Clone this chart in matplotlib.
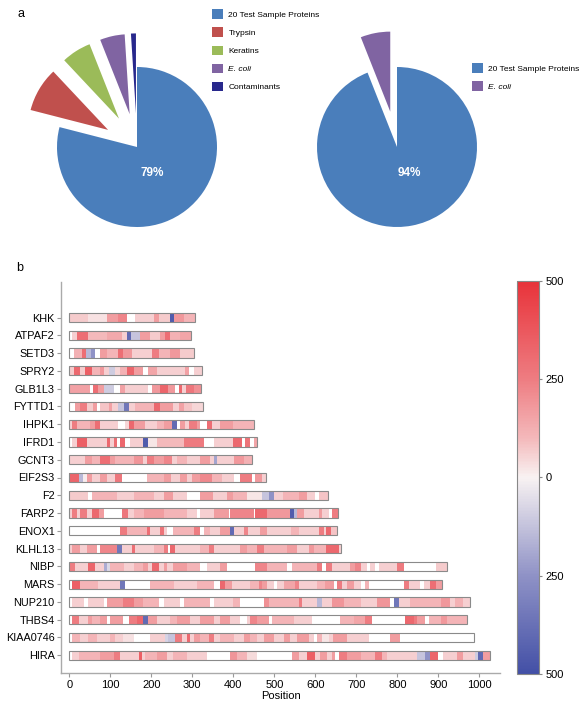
import matplotlib
matplotlib.use("Agg")
import matplotlib.pyplot as plt
import numpy as np
from matplotlib.colors import LinearSegmentedColormap, Normalize
from matplotlib.cm import ScalarMappable

plt.rcParams['font.family'] = ['Liberation Sans', 'DejaVu Sans']

# ---- panel a: pie data ----
pie1_labels = ['20 Test Sample Proteins', 'Trypsin', 'Keratins', 'E. coli', 'Contaminants']
pie1_values = [79, 9, 6, 5, 1]
pie1_colors = ['#4a7ebb', '#c0504d', '#9bbb59', '#8064a2', '#28288c']

pie2_labels = ['20 Test Sample Proteins', 'E. coli']
pie2_values = [94, 6]
pie2_colors = ['#4a7ebb', '#8064a2']

# ---- panel b: coverage bars, (start residue, value) segments ----
proteins = ['KHK', 'ATPAF2', 'SETD3', 'SPRY2', 'GLB1L3', 'FYTTD1', 'IHPK1', 'IFRD1', 'GCNT3', 'EIF2S3',
            'F2', 'FARP2', 'ENOX1', 'KLHL13', 'NIBP', 'MARS', 'NUP210', 'THBS4', 'KIAA0746', 'HIRA']
lengths = [306, 297, 303, 324, 322, 326, 450, 458, 445, 480,
           630, 655, 652, 663, 922, 909, 978, 969, 986, 1026]

KHK = [(0, 70), (47, 30), (92, 170), (120, 230), (141, 0), (161, 60), (206, 170), (218, 70), (246, -450),
       (256, 180), (279, 110)]
ATPAF2 = [(0, 0), (6, 60), (20, 300), (47, 100), (92, 140), (129, 60), (141, -400), (150, -120), (173, 170),
          (196, 70), (222, 170), (234, 300), (246, 120), (271, 150)]
SETD3 = [(0, 0), (12, 120), (31, 300), (41, -150), (53, -250), (63, 0), (76, 170), (92, 110), (120, 300),
         (132, 180), (153, 60), (202, 250), (219, 110), (246, 180), (271, 70)]
SPRY2 = [(0, 70), (11, 320), (27, 70), (39, 350), (55, 110), (74, 180), (84, 60), (96, -100), (112, 50),
         (124, 120), (141, 330), (158, 170), (181, 0), (191, 150), (214, 60), (283, 160), (291, 0), (304, 60)]
GLB1L3 = [(0, 160), (51, 0), (59, 300), (71, 170), (84, -100), (108, 0), (124, 160), (137, 60), (193, 0),
          (202, 180), (222, 330), (242, 180), (258, 0), (267, 320), (275, 60), (285, 270), (303, 200)]
FYTTD1 = [(0, 0), (15, 170), (27, 250), (43, 70), (59, 170), (67, 0), (76, 80), (96, 160), (104, 60),
          (120, -120), (133, -350), (145, 60), (161, 110), (206, 320), (222, 170), (254, 60), (267, 160),
          (279, 80), (299, 50)]
IHPK1 = [(0, 60), (7, 250), (19, 110), (51, 170), (63, 300), (76, 60), (120, 0), (137, 50), (145, 320),
         (157, 170), (185, 60), (214, 110), (230, 170), (250, -400), (263, 0), (269, 170), (283, 60),
         (291, 250), (311, 170), (319, 0), (336, 300), (348, 60), (368, 170), (400, 110)]
IFRD1 = [(0, 0), (6, 60), (19, 350), (43, 60), (92, 320), (100, 60), (108, 300), (116, 0), (124, 320),
         (137, 0), (149, 60), (181, -450), (193, 20), (214, 100), (279, 260), (328, 0), (352, 60), (400, 320),
         (421, 0), (429, 280), (441, 0), (450, 150)]
GCNT3 = [(0, 60), (39, 170), (55, 110), (76, 300), (100, 170), (112, 110), (157, 190), (181, 60), (189, 250),
         (206, 170), (231, 230), (250, 60), (263, 110), (287, 60), (319, 170), (344, 60), (352, -200),
         (360, 60), (401, 180), (425, 120)]
EIF2S3 = [(0, 330), (23, -150), (33, 10), (43, 170), (55, 60), (76, 170), (92, 60), (112, 270), (128, 0),
          (189, 110), (230, 170), (247, 60), (271, 170), (287, 60), (299, 170), (319, 220), (348, 110),
          (372, 60), (401, 0), (417, 250), (445, 0), (453, 180), (470, 60)]
F2 = [(0, 70), (47, 0), (55, 110), (116, 60), (157, 110), (206, 60), (230, 170), (254, 60), (287, 0),
      (319, 170), (351, 60), (384, 170), (400, 110), (433, 20), (470, -120), (488, -250), (500, 60),
      (520, 110), (560, 170), (580, 60), (600, 0), (610, 80)]
FARP2 = [(0, 60), (7, 250), (19, 60), (27, 250), (43, 60), (55, 320), (72, 170), (84, 0), (128, 270),
         (144, 60), (157, 110), (182, 170), (230, 110), (288, 60), (312, 0), (320, 60), (352, 170), (389, 0),
         (393, 230), (450, 0), (454, 320), (482, 180), (537, -450), (548, -150), (556, 170), (572, 60),
         (609, 170), (617, 60), (634, 0), (641, 250)]
ENOX1 = [(0, 0), (124, 260), (141, 110), (190, 300), (198, 60), (222, 280), (230, 60), (238, 0), (254, 110),
         (303, 250), (320, 0), (328, 110), (344, 60), (368, 170), (393, -400), (401, 60), (425, 230),
         (437, 60), (466, 170), (482, 60), (540, 110), (560, 60), (608, 250), (620, 60), (627, 320), (638, 80)]
KLHL13 = [(0, 60), (7, 170), (27, 60), (43, 170), (67, 0), (76, 230), (116, -350), (128, 60), (153, 300),
          (161, 60), (206, 110), (230, 250), (242, 0), (246, 320), (259, 60), (320, 110), (340, 250),
          (352, 60), (417, 170), (433, 110), (457, 250), (474, 110), (531, 170), (555, 60), (584, 180),
          (596, 110), (625, 320), (657, 60)]
NIBP = [(0, 0), (3, 250), (15, 60), (47, 330), (63, 60), (84, -180), (92, -70), (100, 110), (133, 60),
        (157, 110), (181, 170), (193, 60), (201, 320), (218, 60), (230, 170), (238, 60), (254, 170),
        (287, 110), (320, 0), (336, 60), (368, 170), (384, 0), (453, 230), (482, 110), (530, 0), (543, 110),
        (604, 250), (616, 0), (625, 250), (640, 60), (685, 170), (697, 230), (710, 60), (726, 0), (734, 60),
        (746, 0), (754, 60), (799, 260), (815, 0), (893, 70)]
MARS = [(0, 0), (7, 350), (27, 110), (71, 60), (124, -350), (137, 0), (198, 110), (255, 60), (312, 110),
        (352, 0), (368, 320), (380, 170), (396, 60), (440, 110), (463, 230), (470, 170), (482, 60), (498, 0),
        (506, 60), (523, 150), (551, 230), (559, 60), (604, 110), (624, 170), (645, 0), (653, 250), (665, 60),
        (677, 170), (693, 60), (710, 0), (722, 110), (730, 0), (815, 250), (827, 60), (856, 0), (864, 60),
        (880, 300), (893, 170)]
NUP210 = [(0, 0), (7, 60), (35, 0), (47, 60), (84, 0), (92, 170), (132, 250), (157, 170), (181, 110),
          (218, 0), (230, 60), (271, 0), (279, 110), (344, 0), (352, 60), (400, 110), (417, 0), (474, 200),
          (486, 110), (560, 250), (568, 60), (604, -150), (616, 60), (641, 190), (669, 110), (710, 60),
          (750, 190), (783, 0), (791, -350), (803, 60), (831, 110), (905, 180), (929, 60), (941, 120),
          (961, 60)]
THBS4 = [(0, 0), (7, 250), (23, 60), (47, 170), (55, 110), (76, 170), (92, 0), (100, 170), (132, 0),
         (145, 250), (165, 320), (181, -400), (193, 170), (214, 60), (246, 110), (263, 170), (295, 60),
         (320, 170), (352, 60), (368, 170), (393, 60), (417, 0), (433, 60), (441, 230), (457, 170), (486, 0),
         (494, 110), (547, 60), (592, 0), (661, 110), (693, 150), (722, 250), (738, 0), (819, 320),
         (840, 250), (848, 170), (868, 0), (876, 110), (905, 180), (921, 110)]
KIAA0746 = [(0, 0), (7, 110), (27, 60), (47, 110), (67, 60), (100, 110), (112, 60), (132, 30), (157, 0),
            (198, 60), (234, -80), (242, -120), (258, 260), (275, 60), (287, 320), (295, 60), (303, 170),
            (320, 110), (340, 250), (352, 60), (368, 110), (401, 60), (425, 170), (441, 110), (457, 60),
            (474, 170), (498, 60), (523, 170), (539, 60), (555, 170), (584, 60), (596, 0), (604, 110),
            (616, 20), (633, 60), (644, 170), (677, 60), (730, 0), (783, 170), (807, 0)]
HIRA = [(0, 0), (7, 60), (23, 110), (76, 170), (108, 250), (124, 60), (169, 350), (177, 60), (185, 110),
        (213, 170), (238, 60), (254, 110), (287, 60), (336, 0), (393, 190), (410, 110), (433, 40), (458, 0),
        (543, 170), (559, 60), (580, 350), (600, 60), (612, 170), (628, 60), (641, 170), (649, 0), (657, 250),
        (677, 170), (710, 110), (746, 250), (763, 110), (775, 60), (848, -120), (868, -250), (880, 330),
        (900, 0), (912, 60), (945, 170), (961, 60), (990, -100), (996, -400), (1008, 170)]

segments = [KHK, ATPAF2, SETD3, SPRY2, GLB1L3, FYTTD1, IHPK1, IFRD1, GCNT3, EIF2S3,
            F2, FARP2, ENOX1, KLHL13, NIBP, MARS, NUP210, THBS4, KIAA0746, HIRA]

cbar_ticks = [-500, -250, 0, 250, 500]
cbar_ticklabels = ['500', '250', '0', '250', '500']

W, H = 588, 709
fig = plt.figure(figsize=(W / 100, H / 100), dpi=100)


def px_axes(left, top, width, height):
    return fig.add_axes([left / W, 1 - (top + height) / H, width / W, height / H])


# ---- panel a ----
ax1 = px_axes(17, 27, 240, 240)
w1, _ = ax1.pie(pie1_values, colors=pie1_colors, explode=[0, 0.42, 0.42, 0.42, 0.42],
                startangle=90, counterclock=False, wedgeprops=dict(linewidth=0))
ax1.set_xlim(-1.5, 1.5)
ax1.set_ylim(-1.5, 1.5)
ax1.set_aspect('equal')
ax1.text(0.19, -0.33, '%d%%' % pie1_values[0], color='white', fontsize=8.5, fontweight='bold',
         ha='center', va='center')
leg1 = ax1.legend(w1, pie1_labels, loc='upper left', bbox_to_anchor=(208 / W, 1 - 5 / H),
                  bbox_transform=fig.transFigure, frameon=False, fontsize=6, borderpad=0,
                  handlelength=1.35, handleheight=1.35, handletextpad=0.6, labelspacing=1.05)
leg1.get_texts()[3].set_fontstyle('italic')

ax2 = px_axes(277, 27, 240, 240)
w2, _ = ax2.pie(pie2_values, colors=pie2_colors, explode=[0, 0.45],
                startangle=90, counterclock=False, wedgeprops=dict(linewidth=0))
ax2.set_xlim(-1.5, 1.5)
ax2.set_ylim(-1.5, 1.5)
ax2.set_aspect('equal')
ax2.text(0.16, -0.33, '%d%%' % pie2_values[0], color='white', fontsize=8.5, fontweight='bold',
         ha='center', va='center')
leg2 = ax2.legend(w2, pie2_labels, loc='upper left', bbox_to_anchor=(468 / W, 1 - 59 / H),
                  bbox_transform=fig.transFigure, frameon=False, fontsize=6, borderpad=0,
                  handlelength=1.35, handleheight=1.35, handletextpad=0.6, labelspacing=1.05)
leg2.get_texts()[1].set_fontstyle('italic')

fig.text(18 / W, 1 - 14 / H, 'a', fontsize=9, va='center')
fig.text(16 / W, 1 - 268 / H, 'b', fontsize=9, va='center')

# ---- panel b ----
cmap = LinearSegmentedColormap.from_list('cov', [(0.0, '#4350a6'), (0.25, '#8f92c6'), (0.5, '#f8f2f2'),
                                                 (0.6, '#f4b9bb'), (0.75, '#ee7d82'), (1.0, '#e8333a')])
norm = Normalize(-500, 500)

ax = px_axes(61, 282, 439, 391)
n = len(proteins)
bar_h = 0.52
for i, (name, length, segs) in enumerate(zip(proteins, lengths, segments)):
    y = n - 1 - i
    starts = [s for s, v in segs]
    ends = starts[1:] + [length]
    for s, e, (_, v) in zip(starts, ends, segs):
        if v == 0:
            continue
        ax.barh(y, e - s, left=s, height=bar_h, color=cmap(norm(v)), linewidth=0)
    ax.barh(y, length, left=0, height=bar_h, fill=False, edgecolor='#8a8a8a', linewidth=0.8)

ax.set_yticks(np.arange(n)[::-1])
ax.set_yticklabels(proteins, fontsize=7.8)
ax.set_xticks(np.arange(0, 1001, 100))
ax.tick_params(axis='x', labelsize=8, length=3, color='#999999', pad=2)
ax.tick_params(axis='y', length=3, color='#999999', pad=1.5)
ax.set_xlim(-20, 1050)
ax.set_ylim(-1, n + 1)
ax.set_xlabel('Position', fontsize=8, labelpad=1)
for side in ['top', 'right']:
    ax.spines[side].set_visible(False)
for side in ['left', 'bottom']:
    ax.spines[side].set_color('#aaaaaa')
    ax.spines[side].set_linewidth(1)

cax = px_axes(517, 281, 22, 393)
cb = fig.colorbar(ScalarMappable(norm=norm, cmap=cmap), cax=cax, ticks=cbar_ticks)
cb.set_ticklabels(cbar_ticklabels)
cb.outline.set_edgecolor('#888888')
cb.outline.set_linewidth(0.8)
cax.tick_params(labelsize=8, length=2.5, color='#888888', pad=2)

fig.savefig('out.png', dpi=100)
